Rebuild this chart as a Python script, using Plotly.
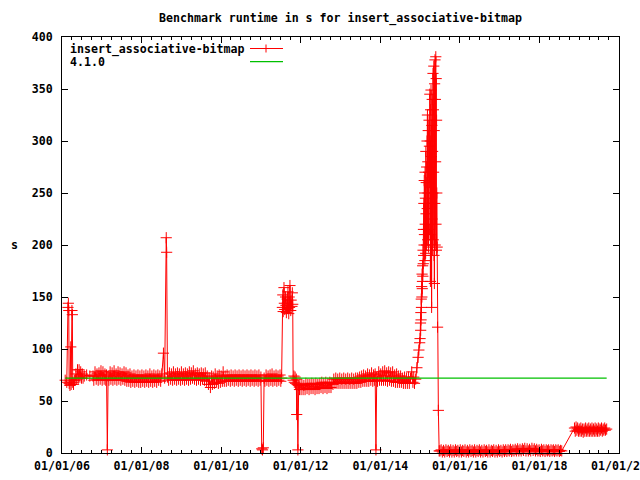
import plotly.graph_objects as go
from datetime import datetime

# ---- data (decimal year, runtime in s) ----
seg_2006 = [(2006.08,70),(2006.12,68),(2006.15,140),(2006.16,144),(2006.17,137),(2006.18,67),(2006.20,65),
            (2006.22,102),(2006.23,66),(2006.25,137),(2006.26,133),(2006.27,68),(2006.29,66),(2006.31,70),
            (2006.33,70),(2006.35,76),(2006.37,71),(2006.39,80),(2006.41,72),(2006.43,80),(2006.45,73),
            (2006.47,78),(2006.49,72),(2006.51,76),(2006.53,72),(2006.56,74),(2006.62,75),(2006.70,74)]

seg_2007_2008 = [(2006.78,74),(2006.80,70),(2006.83,78),(2006.86,71),(2006.88,76),(2006.91,70),(2006.93,77),
                 (2006.96,71),(2006.98,79),(2007.01,70),(2007.03,78),(2007.06,71),(2007.08,76),(2007.10,70),
                 (2007.12,75),(2007.14,3),(2007.16,74),(2007.18,70),(2007.21,78),(2007.23,71),(2007.26,77),
                 (2007.28,70),(2007.31,79),(2007.33,71),(2007.36,76),(2007.38,70),(2007.41,78),(2007.43,71),
                 (2007.46,77),(2007.48,70),(2007.51,76),(2007.53,71),(2007.56,78),(2007.58,70),(2007.61,77),
                 (2007.63,69),(2007.66,75),(2007.68,69),(2007.71,76),(2007.73,68),(2007.76,74),(2007.78,69),
                 (2007.81,75),(2007.83,68),(2007.86,74),(2007.88,69),(2007.91,75),(2007.93,68),(2007.96,74),
                 (2007.98,68),(2008.01,75),(2008.03,69),(2008.06,74),(2008.08,68),(2008.11,75),(2008.13,69),
                 (2008.16,74),(2008.18,68),(2008.21,76),(2008.23,69),(2008.26,74),(2008.28,68),(2008.31,75),
                 (2008.33,69),(2008.36,74),(2008.38,68),(2008.41,75),(2008.43,70),(2008.46,74),(2008.48,69),
                 (2008.51,76),(2008.55,96),(2008.58,72),(2008.62,207),(2008.63,193),(2008.65,73),(2008.68,70),
                 (2008.70,77),(2008.73,71),(2008.75,76),(2008.78,70),(2008.80,78),(2008.83,71),(2008.85,76),
                 (2008.88,70),(2008.90,77),(2008.93,71),(2008.95,76),(2008.98,70)]

seg_2009_2011 = [(2009.00,78),(2009.03,71),(2009.05,76),(2009.08,70),(2009.10,77),(2009.13,71),(2009.15,76),
                 (2009.18,70),(2009.20,78),(2009.23,71),(2009.25,77),(2009.28,72),(2009.30,79),(2009.33,71),
                 (2009.35,76),(2009.38,70),(2009.40,77),(2009.43,71),(2009.45,76),(2009.48,70),(2009.50,77),
                 (2009.53,71),(2009.55,76),(2009.58,70),(2009.60,77),(2009.63,69),(2009.65,74),(2009.68,66),
                 (2009.70,72),(2009.73,63),(2009.76,74),(2009.78,66),(2009.80,73),(2009.83,67),(2009.85,76),
                 (2009.88,68),(2009.90,74),(2009.93,67),(2009.95,75),(2009.98,68),(2010.00,74),(2010.03,69),
                 (2010.05,78),(2010.08,69),(2010.10,74),(2010.13,69),(2010.15,75),(2010.18,70),(2010.20,74),
                 (2010.23,69),(2010.25,75),(2010.28,70),(2010.30,74),(2010.33,69),(2010.35,75),(2010.38,70),
                 (2010.40,74),(2010.43,69),(2010.45,75),(2010.48,70),(2010.50,74),(2010.53,69),(2010.55,75),
                 (2010.58,70),(2010.60,74),(2010.63,69),(2010.65,75),(2010.68,70),(2010.70,74),(2010.73,69),
                 (2010.75,75),(2010.78,70),(2010.80,74),(2010.83,69),(2010.85,75),(2010.88,70),(2010.90,74),
                 (2010.93,69),(2010.95,75),(2010.98,70),(2011.00,73),
                 (2011.02,4),(2011.04,3),(2011.06,5),(2011.08,72),(2011.10,69),(2011.13,75),(2011.15,70),
                 (2011.18,74),(2011.20,69),(2011.23,75),(2011.25,70),(2011.28,76),(2011.30,69),(2011.33,74),
                 (2011.35,70),(2011.38,75),(2011.40,69),(2011.43,74),(2011.45,70),(2011.48,75),(2011.50,69),
                 (2011.52,72)]

seg_2011_spike = [(2011.54,140),(2011.55,152),(2011.56,136),(2011.58,159),(2011.59,144),(2011.60,138),
                  (2011.62,150),(2011.63,142),(2011.64,135),(2011.66,148),(2011.67,139),(2011.68,155),
                  (2011.70,134),(2011.71,150),(2011.72,140),(2011.73,161),(2011.75,137),(2011.76,147),
                  (2011.78,141),(2011.79,154),(2011.80,143),(2011.81,70),(2011.83,74),(2011.84,68),
                  (2011.86,73),(2011.87,67),(2011.89,71),(2011.90,37),(2011.91,66),(2011.93,3),
                  (2011.95,65),(2011.97,61),(2011.98,66)]

seg_2012_2014 = [(2012.01,61),(2012.03,66),(2012.06,61),(2012.08,65),(2012.11,61),(2012.13,67),(2012.16,62),
                 (2012.18,66),(2012.21,61),(2012.23,66),(2012.26,62),(2012.28,67),(2012.31,62),(2012.33,66),
                 (2012.36,61),(2012.38,67),(2012.41,62),(2012.43,66),(2012.46,62),(2012.48,67),(2012.51,63),
                 (2012.53,68),(2012.56,62),(2012.58,67),(2012.61,63),(2012.63,68),(2012.66,62),(2012.68,67),
                 (2012.71,63),(2012.73,68),(2012.76,63),(2012.78,67),(2012.81,66),(2012.83,71),(2012.86,67),
                 (2012.88,72),(2012.91,67),(2012.93,71),(2012.96,67),(2012.98,72),(2013.01,67),(2013.03,71),
                 (2013.06,67),(2013.08,72),(2013.11,67),(2013.13,71),(2013.16,67),(2013.18,72),(2013.21,67),
                 (2013.23,71),(2013.26,67),(2013.28,72),(2013.31,67),(2013.33,71),(2013.36,67),(2013.38,72),
                 (2013.41,67),(2013.43,72),(2013.46,68),(2013.48,73),(2013.51,68),(2013.53,74),(2013.56,69),
                 (2013.58,75),(2013.61,69),(2013.63,74),(2013.66,69),(2013.68,76),(2013.71,69),(2013.73,75),
                 (2013.76,70),(2013.78,77),(2013.81,69),(2013.83,75),(2013.85,70),(2013.87,76),(2013.89,3),
                 (2013.91,73),(2013.93,69),(2013.96,78),(2013.98,70),(2014.01,76),(2014.03,70),(2014.06,78),
                 (2014.08,70),(2014.11,79),(2014.13,70),(2014.16,77),(2014.18,69),(2014.21,78),(2014.23,70),
                 (2014.26,77),(2014.28,69),(2014.31,78),(2014.33,69),(2014.36,75),(2014.38,68),(2014.41,76),
                 (2014.43,68),(2014.46,74),(2014.48,68),(2014.51,74),(2014.53,68),(2014.56,72),(2014.58,67),
                 (2014.61,73),(2014.63,67),(2014.66,72),(2014.68,67),(2014.71,73),(2014.73,67),(2014.76,72),
                 (2014.79,78),(2014.82,68),(2014.84,73),(2014.86,67),(2014.89,71)]

seg_2015_peak = [(2014.92,82),(2014.95,92),(2014.97,99),(2014.99,106),
                 (2015.000,110),(2015.010,125),(2015.015,118),(2015.020,135),(2015.025,128),(2015.030,148),
                 (2015.035,140),(2015.040,160),(2015.045,150),(2015.050,172),(2015.055,158),(2015.060,165),
                 (2015.065,180),(2015.070,170),(2015.075,195),(2015.080,182),(2015.085,215),(2015.090,190),
                 (2015.095,240),(2015.100,200),(2015.105,262),(2015.110,210),(2015.115,250),(2015.120,185),
                 (2015.125,270),(2015.130,220),(2015.135,245),(2015.140,192),(2015.145,290),(2015.150,230),
                 (2015.155,260),(2015.160,200),(2015.165,275),(2015.170,215),(2015.175,300),(2015.180,235),
                 (2015.185,325),(2015.190,205),(2015.195,280),(2015.200,250),(2015.205,310),(2015.210,198),
                 (2015.215,270),(2015.220,240),(2015.225,320),(2015.230,215),(2015.235,295),(2015.240,260),
                 (2015.245,345),(2015.250,210),(2015.255,300),(2015.260,165),(2015.265,330),(2015.270,240),
                 (2015.275,349),(2015.280,200),(2015.285,285),(2015.290,140),(2015.295,315),(2015.300,225),
                 (2015.305,340),(2015.310,195),(2015.315,290),(2015.320,250),(2015.325,365),(2015.330,205),
                 (2015.335,330),(2015.340,270),(2015.345,372),(2015.350,190),(2015.355,310),(2015.360,163),
                 (2015.365,355),(2015.370,240),(2015.375,378),(2015.380,200),(2015.385,340),(2015.390,280),
                 (2015.395,381),(2015.400,220),(2015.405,360),(2015.410,195),(2015.415,320),(2015.420,250),
                 (2015.430,198),(2015.440,121),(2015.460,41),(2015.480,2)]

seg_2016_2018 = [(2015.50,2),(2015.53,3),(2015.56,1),(2015.59,2.5),(2015.62,1),(2015.65,3),(2015.68,1.5),
                 (2015.71,2.5),(2015.74,1),(2015.77,3),(2015.80,1),(2015.83,2.5),(2015.86,1),(2015.89,3),
                 (2015.92,1.5),(2015.95,2.5),(2015.98,1),(2016.01,3),(2016.04,1),(2016.07,2.5),(2016.10,1.5),
                 (2016.13,3),(2016.16,1),(2016.19,2.5),(2016.22,1),(2016.25,3),(2016.28,1.5),(2016.31,2.5),
                 (2016.34,1),(2016.37,3),(2016.40,1),(2016.43,2.5),(2016.46,1.5),(2016.49,3),(2016.52,1),
                 (2016.55,2.5),(2016.58,1),(2016.61,3),(2016.64,1.5),(2016.67,2.5),(2016.70,1),(2016.73,3),
                 (2016.76,1),(2016.79,2.5),(2016.82,1.5),(2016.85,3),(2016.88,1),(2016.91,2.5),(2016.94,1),
                 (2016.97,3),(2017.00,1.5),(2017.03,2.5),(2017.06,1),(2017.09,3),(2017.12,1.5),(2017.15,3),
                 (2017.18,1.5),(2017.21,3),(2017.24,2),(2017.27,3.5),(2017.30,1.5),(2017.33,3),(2017.36,2),
                 (2017.39,3.5),(2017.42,2),(2017.45,4),(2017.48,2),(2017.51,3.5),(2017.54,2),(2017.57,4),
                 (2017.60,2.5),(2017.63,4.5),(2017.66,2),(2017.69,4),(2017.72,2),(2017.75,3.5),(2017.78,2),
                 (2017.81,4.5),(2017.84,2.5),(2017.87,4),(2017.90,2),(2017.93,3.5),(2017.96,2),(2017.99,3),
                 (2018.02,1.5),(2018.05,3.5),(2018.08,2),(2018.11,3),(2018.14,1.5),(2018.17,3),(2018.20,2),
                 (2018.23,3),(2018.26,1.5),(2018.29,3),(2018.32,2),(2018.35,3),(2018.38,1.5),(2018.41,3),
                 (2018.44,2),(2018.47,3),(2018.50,1.5),(2018.53,2.5),(2018.56,2)]

seg_2019 = [(2018.88,24),(2018.90,21),(2018.92,25),(2018.94,22),(2018.96,24),(2018.98,21),(2019.00,23),
            (2019.02,21),(2019.04,24),(2019.06,21),(2019.08,23),(2019.10,20),(2019.12,23),(2019.14,21),
            (2019.16,24),(2019.18,21),(2019.20,23),(2019.22,21),(2019.24,24),(2019.26,21),(2019.28,23),
            (2019.30,21),(2019.32,24),(2019.34,21),(2019.36,23),(2019.38,21),(2019.40,24),(2019.42,21),
            (2019.44,23),(2019.46,21),(2019.48,24),(2019.50,21),(2019.52,23),(2019.54,22),(2019.56,24),
            (2019.58,21),(2019.60,23),(2019.62,22),(2019.64,24),(2019.66,22),(2019.69,23)]

baseline_label = "4.1.0"
baseline_value = 72
series_label = "insert_associative-bitmap"
y_ticks = [0, 50, 100, 150, 200, 250, 300, 350, 400]
x_tick_dates = [datetime(2006, 1, 1), datetime(2008, 1, 1), datetime(2010, 1, 1), datetime(2012, 1, 1),
                datetime(2014, 1, 1), datetime(2016, 1, 1), datetime(2018, 1, 1), datetime(2020, 1, 1)]
x_tick_labels = ["01/01/06", "01/01/08", "01/01/10", "01/01/12", "01/01/14", "01/01/16", "01/01/18", "01/01/20"]


def to_date(y):
    yr = int(y)
    start = datetime(yr, 1, 1)
    end = datetime(yr + 1, 1, 1)
    return start + (end - start) * (y - yr)


points = seg_2006 + seg_2007_2008 + seg_2009_2011 + seg_2011_spike + seg_2012_2014 + seg_2015_peak + seg_2016_2018 + seg_2019
xs = [to_date(p[0]) for p in points]
ys = [p[1] for p in points]

FONT = "DejaVu Sans Mono"
fig = go.Figure()
fig.add_trace(go.Scatter(
    x=xs, y=ys, mode="lines+markers", name=series_label,
    line=dict(color="#ff0000", width=1),
    marker=dict(symbol="cross-thin", size=8, line=dict(color="#ff0000", width=1)),
    cliponaxis=False))
fig.add_trace(go.Scatter(
    x=[xs[0], xs[-1]], y=[baseline_value, baseline_value], mode="lines",
    line=dict(color="#00c000", width=1.2), name=baseline_label))

L, R, T, B = 62, 21, 37, 27
PW, PH = 640 - L - R, 480 - T - B


def px(xp):
    return (xp - L) / PW


def py(yp):
    return (480 - B - yp) / PH


fig.update_layout(
    width=640, height=480, margin=dict(l=L, r=R, t=T, b=B, autoexpand=False),
    plot_bgcolor="white", paper_bgcolor="white", showlegend=False,
    font=dict(family=FONT, size=11.6, color="black", weight="bold"),
    title=dict(text="Benchmark runtime in s for insert_associative-bitmap", x=0.5, xref="paper",
               y=1 - 18 / 480, yanchor="middle", yref="container",
               font=dict(family=FONT, size=11.6, color="black", weight="bold")),
    xaxis=dict(type="date", range=[datetime(2006, 1, 1), datetime(2020, 1, 1)], automargin=False,
               tickmode="array", tickvals=x_tick_dates, ticktext=x_tick_labels,
               ticklabeloverflow="allow",
               ticks="inside", ticklen=6, tickcolor="black", tickwidth=1,
               showline=True, linecolor="black", linewidth=1, mirror="allticks",
               showgrid=False, zeroline=False, ticklabelstandoff=2,
               minor=dict(dtick="M3", tick0=datetime(2006, 1, 1), ticks="inside", ticklen=3,
                          tickcolor="black", showgrid=False)),
    yaxis=dict(range=[0, 400], tickvals=y_ticks, ticks="inside", ticklen=6, tickcolor="black",
               showline=True, linecolor="black", linewidth=1, mirror="allticks", automargin=False,
               showgrid=False, zeroline=False, ticklabelstandoff=6),
)

# gnuplot-style key: text then sample
fig.add_annotation(text=series_label, x=px(68), y=py(49), xref="paper", yref="paper",
                   xanchor="left", yanchor="middle", showarrow=False)
fig.add_annotation(text=baseline_label, x=px(68), y=py(62.5), xref="paper", yref="paper",
                   xanchor="left", yanchor="middle", showarrow=False)
fig.add_shape(type="line", xref="paper", yref="paper", x0=px(250), x1=px(283), y0=py(48.5), y1=py(48.5),
              line=dict(color="#ff0000", width=1))
fig.add_shape(type="line", xref="paper", yref="paper", x0=px(266), x1=px(266), y0=py(44.5), y1=py(52.5),
              line=dict(color="#ff0000", width=1))
fig.add_shape(type="line", xref="paper", yref="paper", x0=px(250), x1=px(283), y0=py(61.7), y1=py(61.7),
              line=dict(color="#00c000", width=1.2))
fig.add_annotation(text="s", x=px(14), y=py(245), xref="paper", yref="paper",
                   xanchor="center", yanchor="middle", showarrow=False)

fig.write_html("out.html", config={"displayModeBar": False})

# remove the browser's default body margin so the figure sits at the page origin
with open("out.html", "r", encoding="utf-8") as f:
    html = f.read()
html = html.replace("<head>", "<head><style>html,body{margin:0;padding:0;overflow:hidden;}</style>", 1)
with open("out.html", "w", encoding="utf-8") as f:
    f.write(html)
